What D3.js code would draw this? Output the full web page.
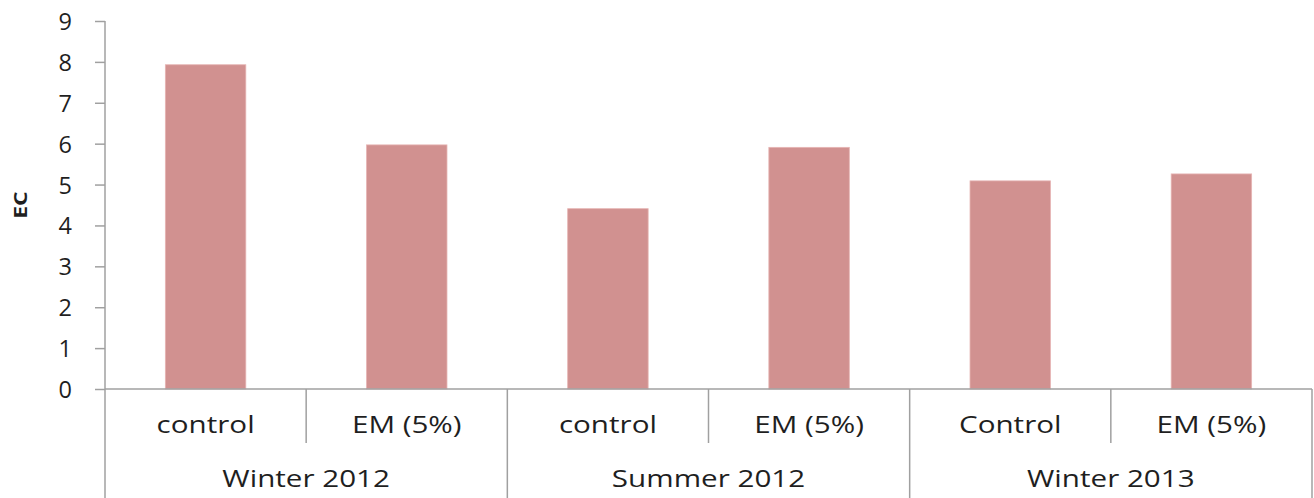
<!DOCTYPE html>
<html><head><meta charset="utf-8">
<script src="https://cdn.jsdelivr.net/npm/d3@7"></script>
<style>html,body{margin:0;padding:0;background:#fff;}svg{display:block;}</style>
</head><body>
<script>
const categories = ["control","EM (5%)","control","EM (5%)","Control","EM (5%)"];
const groups = ["Winter 2012","Summer 2012","Winter 2013"];
const groupOf = [0,0,1,1,2,2];
const values = [7.93, 5.97, 4.41, 5.91, 5.09, 5.26];
const yTicks = [0,1,2,3,4,5,6,7,8,9];
const yTitle = "EC";

(function(){
const W = 1314, H = 498;
const mLeft = 105, mRight = 1312, mTop = 21, mBottom = 389;
const svg = d3.select("body").append("svg").attr("width", W).attr("height", H);
const font = "'Open Sans', sans-serif";
const textColor = "#1f1f1f";
const axisColor = "#a0a0a0";
const sx = 1.26;

const x = d3.scaleBand().domain(d3.range(categories.length)).range([mLeft, mRight])
  .paddingInner(0.6).paddingOuter(0.3);
const xc = d3.scaleBand().domain(d3.range(categories.length)).range([mLeft, mRight]).padding(0);
const y = d3.scaleLinear().domain([0, 9]).range([mBottom, mTop]);

// bars
svg.append("g").selectAll("rect").data(values).join("rect")
  .attr("x", (d,i) => x(i)).attr("y", d => y(d))
  .attr("width", x.bandwidth()).attr("height", d => y(0) - y(d))
  .attr("fill", "#D19190").attr("stroke", "#e6b4b3").attr("stroke-width", 0.8);

// y axis
const yAxis = d3.axisLeft(y).tickValues(yTicks).tickSize(10).tickPadding(23).tickFormat(d3.format("d"));
const gy = svg.append("g").attr("transform", `translate(${mLeft},0)`).call(yAxis);
gy.select(".domain").remove();
gy.selectAll(".tick line").attr("stroke", axisColor).attr("stroke-width", 1.5);
gy.selectAll(".tick text").attr("font-family", font).attr("font-size", 23.5)
  .attr("fill", textColor).attr("dy", "0.36em");
svg.append("line").attr("x1", mLeft).attr("x2", mLeft).attr("y1", mTop).attr("y2", H)
  .attr("stroke", axisColor).attr("stroke-width", 1.5);

// x axis baseline
svg.append("line").attr("x1", mLeft).attr("x2", mRight).attr("y1", mBottom).attr("y2", mBottom)
  .attr("stroke", axisColor).attr("stroke-width", 1.5);

// separators
const nCat = categories.length;
for (let i = 1; i <= nCat; i++) {
  const xv = i < nCat ? xc(i) : mRight;
  const isGroupEdge = i === nCat || groupOf[i] !== groupOf[i-1];
  svg.append("line").attr("x1", xv).attr("x2", xv).attr("y1", mBottom)
    .attr("y2", isGroupEdge ? H : 443)
    .attr("stroke", axisColor).attr("stroke-width", 1.5);
}

// category labels
categories.forEach((c, i) => {
  svg.append("text")
    .attr("transform", `translate(${xc(i) + xc.bandwidth()/2},433) scale(${sx},1)`)
    .attr("text-anchor", "middle").attr("font-family", font).attr("font-size", 23.5)
    .attr("fill", textColor).text(c);
});
// group labels
groups.forEach((g, gi) => {
  const idx = d3.range(nCat).filter(i => groupOf[i] === gi);
  const x0 = xc(idx[0]), x1 = xc(idx[idx.length-1]) + xc.bandwidth();
  svg.append("text")
    .attr("transform", `translate(${(x0+x1)/2},487) scale(${sx},1)`)
    .attr("text-anchor", "middle").attr("font-family", font).attr("font-size", 23.5)
    .attr("fill", textColor).text(g);
});

// y title
svg.append("text")
  .attr("transform", `translate(27,205) rotate(-90) scale(1.35,1)`)
  .attr("text-anchor", "middle").attr("font-family", font).attr("font-weight", "bold")
  .attr("font-size", 17).attr("fill", textColor).text(yTitle);
})();
</script>
</body></html>
